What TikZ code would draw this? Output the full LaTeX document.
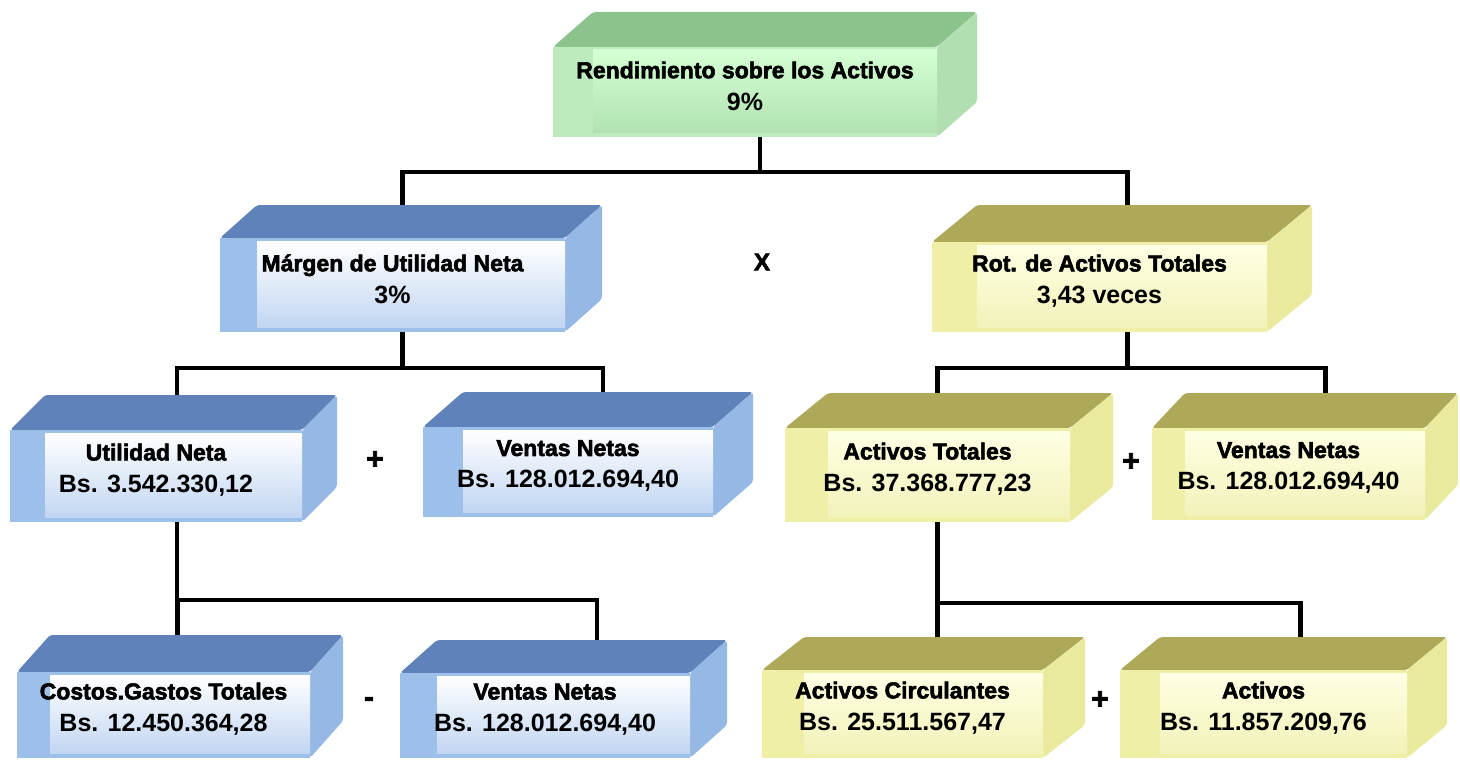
\documentclass[tikz,border=0pt]{standalone}
\usepackage{fontspec}
\setmainfont{Liberation Sans}
\newfontfamily\heavyfont[FakeBold=2.5]{Liberation Sans Bold}
\usetikzlibrary{calc}

% colour schemes: g = green, b = blue, y = yellow
\definecolor{gTop}{HTML}{8CC28C}
\definecolor{gSide}{HTML}{B2DFB2}
\definecolor{gStrip}{HTML}{BDEBBD}
\definecolor{gHi}{HTML}{D4FFD4}
\definecolor{gLo}{HTML}{B2E2B2}
\definecolor{bTop}{HTML}{5F82BA}
\definecolor{bSide}{HTML}{96B8E4}
\definecolor{bStrip}{HTML}{9CC0EA}
\definecolor{bHi}{HTML}{FFFFFF}
\definecolor{bLo}{HTML}{C2D6F2}
\definecolor{yTop}{HTML}{ADA958}
\definecolor{ySide}{HTML}{EAEA9E}
\definecolor{yStrip}{HTML}{EFEFA8}
\definecolor{yHi}{HTML}{FFFFE4}
\definecolor{yLo}{HTML}{F2F2BA}

\tikzset{
  face/.style={rectangle, inner sep=0pt, outer sep=0pt, fill=#1Strip},
  txt/.style={align=center, inner sep=0pt, text=black,
    font=\fontsize{25}{32}\selectfont\bfseries},
  conn/.style={line width=4.5pt, black},
  op/.style={inner sep=0pt, font=\fontsize{30}{30}\selectfont\heavyfont}
}

\newcommand\ttl[1]{{\heavyfont\fontsize{23}{32}\selectfont #1}}

% slab: #1 name, #2 scheme, #3 front left, #4 front top, #5 front right,
% #6 front bottom, #7 depth x, #8 depth y, #9 text
\newcommand\slab[9]{%
  \pgfmathsetmacro\slw{#5-#3}%
  \pgfmathsetmacro\slh{#6-#4}%
  \pgfmathsetmacro\slcx{(#3+#5)/2}%
  \pgfmathsetmacro\slcy{(#4+#6)/2}%
  \fill[#2Top, rounded corners=3pt] (#3,#4) -- ++(#7,-#8) -- ++(\slw,0) -- (#5,#4) -- cycle;
  \fill[#2Side, rounded corners=3pt] (#5,#4) -- ++(#7,-#8) -- ++(0,\slh) -- (#5,#6) -- cycle;
  \node[face=#2, minimum width=\slw pt, minimum height=\slh pt] (#1) at (\slcx,\slcy) {};
  \shade[top color=#2Hi, middle color=#2Hi, bottom color=#2Lo]
    ([xshift=#7pt,yshift=-3pt]#1.north west) rectangle ([yshift=5pt]#1.south east);
  \node[txt] (#1t) at ([yshift=6pt]#1.center) {#9};
}

\begin{document}
\begin{tikzpicture}[x=1pt, y=-1pt]
\useasboundingbox (0,0) rectangle (1460,760);

% top level
\slab{roa}{g}{553}{47}{937}{137}{40}{35}{\ttl{Rendimiento sobre los Activos}\\9\%}

% second level
\slab{lm}{b}{220}{238}{565}{332}{37}{33}{\ttl{Márgen de Utilidad Neta}\\3\%}
\slab{rm}{y}{932}{242}{1267}{332}{45}{37}{\ttl{Rot. de Activos Totales}\\3,43 veces}

% third level
\slab{un}{b}{10}{430}{302}{522}{35}{35}{\ttl{Utilidad Neta}\\Bs. 3.542.330,12}
\slab{vn1}{b}{423}{427}{713}{517}{40}{35}{\ttl{Ventas Netas}\\Bs. 128.012.694,40}
\slab{at}{y}{785}{428}{1070}{522}{43}{35}{\ttl{Activos Totales}\\Bs. 37.368.777,23}
\slab{vn2}{y}{1152}{428}{1425}{520}{33}{35}{\ttl{Ventas Netas}\\Bs. 128.012.694,40}

% fourth level
\slab{cg}{b}{17}{672}{310}{758}{33}{37}{\ttl{Costos.Gastos Totales}\\Bs. 12.450.364,28}
\slab{vn3}{b}{400}{673}{690}{758}{37}{33}{\ttl{Ventas Netas}\\Bs. 128.012.694,40}
\slab{ac}{y}{762}{670}{1043}{758}{42}{33}{\ttl{Activos Circulantes}\\Bs. 25.511.567,47}
\slab{af}{y}{1120}{670}{1407}{758}{40}{33}{\ttl{Activos}\\Bs. 11.857.209,76}

% connectors
\draw[conn] ([xshift=15pt]roa.south) -- ++(0,35) coordinate (j1);
\draw[conn] ([xshift=10pt,yshift=33pt]lm.north) |- (j1) -| ([xshift=28pt,yshift=37pt]rm.north);

\draw[conn] ([xshift=10pt]lm.south) -- ++(0,36) coordinate (j2);
\draw[conn] ([xshift=21pt,yshift=35pt]un.north) |- (j2) -| ([xshift=35pt,yshift=35pt]vn1.north);

\draw[conn] ([xshift=28pt]rm.south) -- ++(0,36) coordinate (j3);
\draw[conn] ([xshift=10pt,yshift=35pt]at.north) |- (j3) -| ([xshift=37pt,yshift=35pt]vn2.north);

\draw[conn] ([xshift=21pt]un.south) -- ++(0,78) coordinate (j4);
\draw[conn] ([xshift=14pt,yshift=37pt]cg.north) |- (j4) -| ([xshift=52pt,yshift=33pt]vn3.north);

\draw[conn] ([xshift=10pt]at.south) -- ++(0,81) coordinate (j5);
\draw[conn] ([xshift=35pt,yshift=33pt]ac.north) |- (j5) -| ([xshift=37pt,yshift=33pt]af.north);

% operators
\node[op, font=\fontsize{24}{24}\selectfont\heavyfont] (opx) at (762,262) {X};
\node[op] (op1) at (375,460) {+};
\node[op] (op2) at (1131,462) {+};
\node[op] (op3) at (369,702) {-};
\node[op] (op4) at (1100,700) {+};
\end{tikzpicture}
\end{document}
